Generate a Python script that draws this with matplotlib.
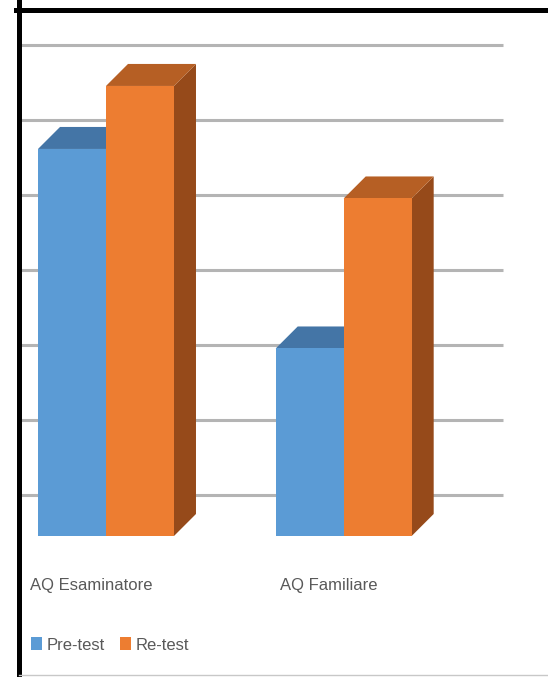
import numpy as np
import matplotlib
matplotlib.use("Agg")
import matplotlib.pyplot as plt
from matplotlib.lines import Line2D

# AQ scores, pre-test vs re-test
categories = ["AQ Esaminatore", "AQ Familiare"]
series = ["Pre-test", "Re-test"]
pre_test = [25.8, 12.5]
re_test = [30.0, 22.5]
grid_values = [0, 5, 10, 15, 20, 25, 30]

front = ["#5B9BD5", "#ED7D31"]
top = ["#4475A6", "#B65F24"]
side = ["#3A6590", "#964A1A"]

plt.rcParams['font.family'] = ['Liberation Sans Narrow', 'Liberation Sans', 'DejaVu Sans']

fig = plt.figure(figsize=(5.48, 6.77), dpi=100)
ax = fig.add_axes([0, 0, 1, 1])
ax.set_xlim(-0.4459, 1.8595)
ax.set_ylim(-9.4, 35.73)
ax.axis('off')

width = 0.286
# fake 3d: bar depth and back wall offsets
dx, dy = 0.0926, 1.467
wall_dx, wall_dy = 0.1725, 2.733

x = np.arange(len(categories))
ax.hlines([g + wall_dy for g in grid_values], -0.36, 1.67,
          color="#b4b4b4", lw=2.2, zorder=1)

for j, vals in enumerate([pre_test, re_test]):
    x0s = x + (j - 1) * width
    for x0, v in zip(x0s, vals):
        x1 = x0 + width
        ax.fill([x1, x1 + dx, x1 + dx, x1], [0, dy, v + dy, v],
                color=side[j], lw=0, zorder=2 + j)
        ax.fill([x0, x0 + dx, x1 + dx, x1], [v, v + dy, v + dy, v],
                color=top[j], lw=0, zorder=2 + j)
    ax.bar(x0s, vals, width=width, align='edge', color=front[j],
           label=series[j], zorder=2 + j)

for xi, name in zip(x, categories):
    ax.text(xi - 0.063, -3.27, name, ha='center', va='center',
            fontsize=12, color="#595959")

ax.legend(loc='center left', bbox_to_anchor=(31.0 / 548, 1 - 645 / 677),
          bbox_transform=fig.transFigure, ncol=2, frameon=False,
          fontsize=12, labelcolor="#595959", handlelength=0.65,
          handleheight=0.8, handletextpad=0.3, columnspacing=0.9,
          borderpad=0, borderaxespad=0)

# frame around the chart area
fig.add_artist(Line2D([0.0338, 0.0338], [0, 1], color='black', lw=3.6))
fig.add_artist(Line2D([0.03, 1], [0.9852, 0.9852], color='black', lw=3.6))
fig.add_artist(Line2D([0.0338, 1], [0.003, 0.003], color='#c8c8c8', lw=1))

fig.savefig("out.png", dpi=100)
